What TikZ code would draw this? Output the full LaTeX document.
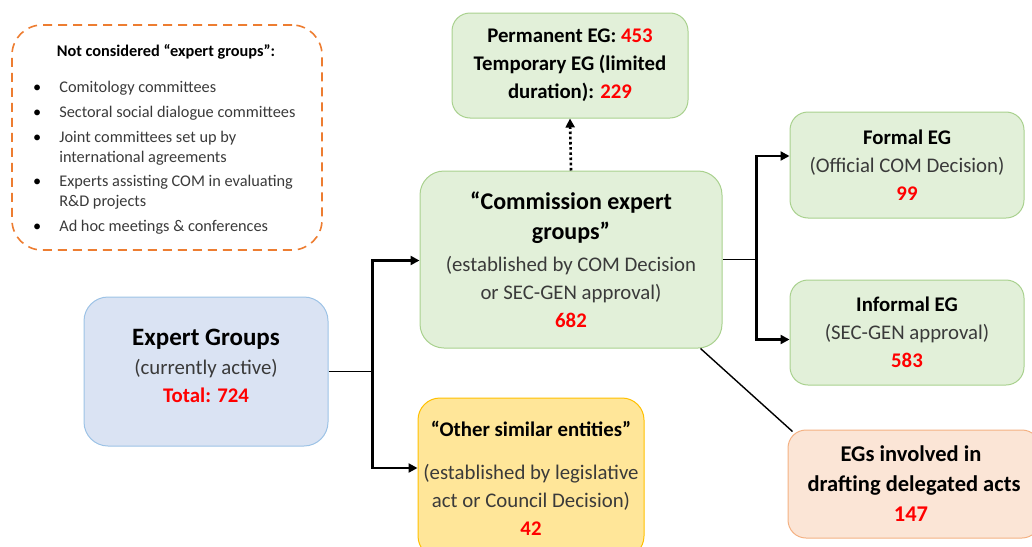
\documentclass[tikz,border=0pt]{standalone}
\usepackage{fontspec}
\setmainfont{Carlito}
\usetikzlibrary{arrows.meta}

\definecolor{egfill}{HTML}{E2F0D9}
\definecolor{egline}{HTML}{A9D18E}
\definecolor{blfill}{HTML}{DAE3F3}
\definecolor{blline}{HTML}{9DC3E6}
\definecolor{yefill}{HTML}{FFE699}
\definecolor{yeline}{HTML}{FFC000}
\definecolor{orfill}{HTML}{FBE5D6}
\definecolor{orline}{HTML}{F4B183}
\definecolor{dashor}{HTML}{ED7D31}
\definecolor{numred}{HTML}{FF0000}
\definecolor{txtgray}{HTML}{3A3A3A}

\newcommand{\num}[1]{\textcolor{numred}{\bfseries #1}}
\newcommand{\sub}[1]{\textcolor{txtgray}{#1}}
\newcommand{\bigb}[2]{{\fontsize{#1}{30}\selectfont\bfseries #2}}

\begin{document}
\begin{tikzpicture}[x=1pt, y=-1pt, every node/.style={font=\fontsize{20.8}{28}\selectfont},
	box/.style={draw, line width=1pt, rounded corners=18pt, align=center, inner sep=0pt},
	green box/.style={box, fill=egfill, draw=egline},
	conn/.style={line width=2.3pt},
	arr/.style={conn, -{Triangle[length=9pt, width=9pt]}}]
	\useasboundingbox (0,0) rectangle (1032,546);
	% left note
	\node[draw=dashor, line width=1.6pt, dash pattern=on 9pt off 6pt, rounded corners=30pt, minimum width=310pt, minimum height=225pt] (note) at (167,137.5) {};
	\node[font=\fontsize{16.3}{20}\selectfont\bfseries] (notetitle) at (166,52) {Not considered “expert groups”:};
	\node[anchor=north west, inner sep=0pt, font=\fontsize{16.3}{20}\selectfont, text=txtgray] (notelist) at (33,78) {%
		\begin{tabular}{@{}l@{\hspace{18pt}}l@{}}
		\textcolor{black}{\textbullet} & Comitology committees\\[5pt]
		\textcolor{black}{\textbullet} & Sectoral social dialogue committees\\[5pt]
		\textcolor{black}{\textbullet} & Joint committees set up by\\
		 & international agreements\\[4pt]
		\textcolor{black}{\textbullet} & Experts assisting COM in evaluating\\
		 & R\&D projects\\[5pt]
		\textcolor{black}{\textbullet} & Ad hoc meetings \& conferences
		\end{tabular}};
	% boxes
	\node[green box, minimum width=236pt, minimum height=105pt] (perm) at (570,65.5) {\bfseries Permanent EG: \num{453}\\ \bfseries Temporary EG (limited\\ \bfseries duration): \num{229}};
	\node[green box, rounded corners=24pt, minimum width=302pt, minimum height=177pt] (comm) at (571,259.5) {\bigb{24}{“Commission expert}\\[2pt] \bigb{24}{groups”}\\[4pt] \sub{(established by COM Decision}\\ \sub{or SEC-GEN approval)}\\ \num{682}};
	\node[green box, minimum width=234pt, minimum height=106pt] (formal) at (907,165) {\bfseries Formal EG\\ \sub{(Official COM Decision)}\\ \num{99}};
	\node[green box, minimum width=234pt, minimum height=105pt] (informal) at (907,332.5) {\bfseries Informal EG\\ \sub{(SEC-GEN approval)}\\ \num{583}};
	\node[box, rounded corners=24pt, fill=blfill, draw=blline, minimum width=244pt, minimum height=149pt] (expert) at (206,371.5) {\bigb{25}{Expert Groups}\\[1pt] \sub{(currently active)}\\ \num{Total: 724}\\[-16pt] \mbox{}};
	\node[box, rounded corners=22pt, fill=yefill, draw=yeline, minimum width=226pt, minimum height=160pt] (other) at (531,478) {\bfseries “Other similar entities”\\[15pt] \sub{(established by legislative}\\ \sub{act or Council Decision)}\\ \num{42}};
	\node[box, fill=orfill, draw=orline, minimum width=252pt, minimum height=108pt, font=\fontsize{22.5}{30}\selectfont] (involved) at (914,484) {\bfseries EGs involved in\hspace*{6pt}\\ \bfseries drafting delegated acts\hspace*{6pt}\\ \num{147}\hspace*{6pt}};
	% connectors
	\draw[line width=1.8pt] (expert.east) -- ++(44,0) coordinate (split1);
	\draw[arr] (split1) |- ([yshift=-1pt]comm.west);
	\draw[arr] (split1) |- ([yshift=10pt]other.west);
	\draw[line width=1.8pt] (comm.east) -- ++(34,0) coordinate (split2);
	\draw[arr] (split2) |- ([yshift=9pt]formal.west);
	\draw[arr] (split2) |- ([yshift=-7pt]informal.west);
	\draw[line width=2.6pt, dash pattern=on 2.6pt off 2.6pt, -{Triangle[length=9pt, width=9pt]}] (comm.north) -- (perm.south);
	\draw[line width=1.4pt] ([xshift=-22pt]comm.south east) -- ([xshift=5pt, yshift=-2pt]involved.north west);
\end{tikzpicture}
\end{document}
